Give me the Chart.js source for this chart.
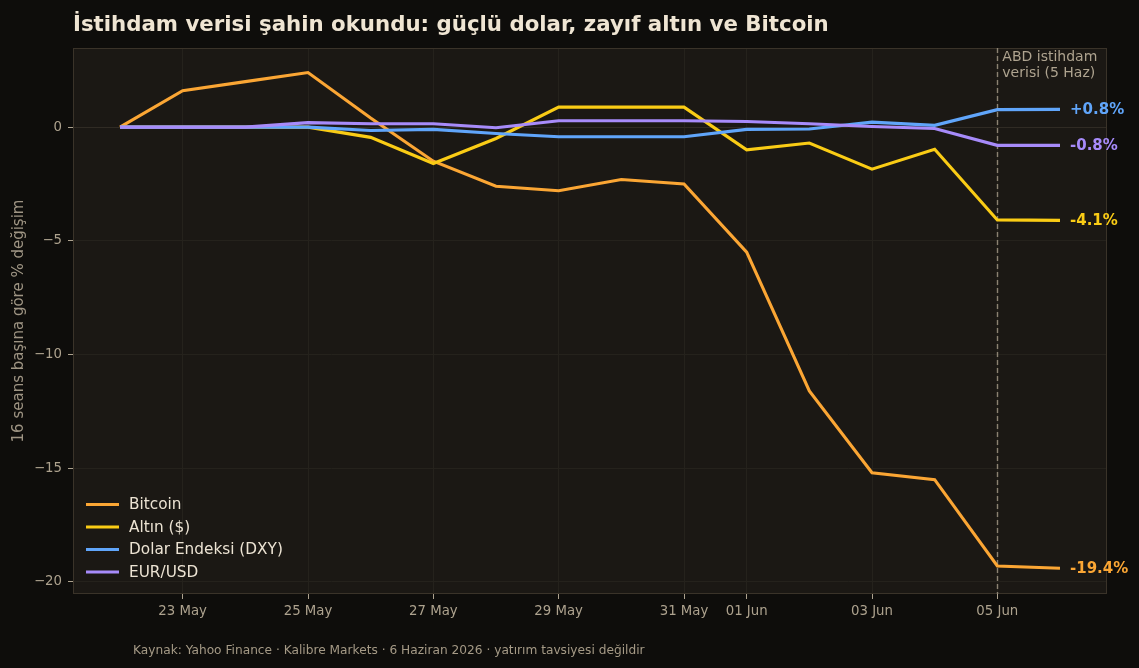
<!DOCTYPE html>
<html>
<head>
<meta charset="utf-8">
<script src="https://cdn.jsdelivr.net/npm/chart.js@4.4.1/dist/chart.umd.min.js"></script>
<style>
  body { margin: 0; background: #0e0d0b; }
  #wrap { width: 1139px; height: 668px; }
</style>
</head>
<body>
<div id="wrap"><canvas id="chart" width="1139" height="668"></canvas></div>
<script>
// sessions, 22 May -> 06 Jun (day offset from 22 May)
const days = [0, 1, 2, 3, 4, 5, 6, 7, 8, 9, 10, 11, 12, 13, 14, 15];
const bitcoin = [0, 1.6, 2.0, 2.4, 0.4, -1.5, -2.6, -2.8, -2.3, -2.5, -5.5, -11.6, -15.2, -15.5, -19.3, -19.4];
const gold    = [0, 0, 0, 0, -0.45, -1.6, -0.5, 0.88, 0.88, 0.88, -1.0, -0.7, -1.85, -0.97, -4.08, -4.1];
const dxy     = [0, 0, 0, 0, -0.15, -0.1, -0.28, -0.42, -0.42, -0.42, -0.1, -0.08, 0.22, 0.08, 0.77, 0.78];
const eurusd  = [0, 0, 0, 0.2, 0.15, 0.15, -0.03, 0.28, 0.28, 0.28, 0.25, 0.15, 0.03, -0.06, -0.8, -0.8];

const seriesNames = ["Bitcoin", "Altın ($)", "Dolar Endeksi (DXY)", "EUR/USD"];
const seriesColors = ["#fba634", "#facc15", "#60a5fa", "#a78bfa"];

const xTickDays = [1, 3, 5, 7, 9, 10, 12, 14];
const xTickLabels = ["23 May", "25 May", "27 May", "29 May", "31 May", "01 Jun", "03 Jun", "05 Jun"];
const yTicks = [-20, -15, -10, -5, 0];
const eventDay = 14;

const FONT = '"DejaVu Sans", sans-serif';
const TICK_COLOR = "#ada28e";

function toPoints(vals) {
  return days.map((d, i) => ({ x: d, y: vals[i] }));
}

const allSeries = [bitcoin, gold, dxy, eurusd];

const decor = {
  id: "decor",
  beforeDraw(chart) {
    const { ctx, chartArea: a } = chart;
    ctx.save();
    ctx.fillStyle = "#0e0d0b";
    ctx.fillRect(0, 0, chart.width, chart.height);
    ctx.fillStyle = "#1b1814";
    ctx.fillRect(a.left, a.top, a.right - a.left, a.bottom - a.top);
    ctx.restore();
  },
  beforeDatasetsDraw(chart) {
    const { ctx, chartArea: a, scales } = chart;
    ctx.save();
    // spines
    ctx.strokeStyle = "#3a3329";
    ctx.lineWidth = 1;
    ctx.strokeRect(a.left + 0.5, a.top + 0.5, a.right - a.left - 1, a.bottom - a.top - 1);
    // event line
    const ex = Math.round(scales.x.getPixelForValue(eventDay)) + 0.5;
    ctx.strokeStyle = "#8b8272";
    ctx.lineWidth = 1.4;
    ctx.setLineDash([5, 3]);
    ctx.beginPath();
    ctx.moveTo(ex, a.top);
    ctx.lineTo(ex, a.bottom);
    ctx.stroke();
    ctx.restore();
  },
  afterDatasetsDraw(chart) {
    const { ctx, scales } = chart;
    ctx.save();
    // end labels
    ctx.font = "bold 15px " + FONT;
    ctx.textBaseline = "middle";
    ctx.textAlign = "left";
    const last = days.length - 1;
    const lx = scales.x.getPixelForValue(days[last]) + 10;
    allSeries.forEach((vals, i) => {
      const v = vals[last];
      const txt = (v > 0 ? "+" : "") + v.toFixed(1) + "%";
      ctx.fillStyle = seriesColors[i];
      ctx.fillText(txt, lx, scales.y.getPixelForValue(v) + 1);
    });
    // event annotation
    const ex = scales.x.getPixelForValue(eventDay) + 5;
    ctx.font = "14px " + FONT;
    ctx.textBaseline = "alphabetic";
    ctx.fillStyle = "#aea38f";
    ctx.fillText("ABD istihdam", ex, 61);
    ctx.fillText("verisi (5 Haz)", ex, 77);
    // legend
    ctx.font = "15.3px " + FONT;
    ctx.textBaseline = "middle";
    seriesNames.forEach((name, i) => {
      const y = 504.5 + i * 22.5;
      ctx.strokeStyle = seriesColors[i];
      ctx.lineWidth = 3;
      ctx.beginPath();
      ctx.moveTo(86, y);
      ctx.lineTo(119, y);
      ctx.stroke();
      ctx.fillStyle = "#ece3d3";
      ctx.fillText(name, 129, y + 1);
    });
    ctx.restore();
  },
  afterDraw(chart) {
    const { ctx, chartArea: a } = chart;
    ctx.save();
    ctx.fillStyle = "#efe5d3";
    ctx.font = "bold 21.3px " + FONT;
    ctx.textBaseline = "alphabetic";
    ctx.fillText("İstihdam verisi şahin okundu: güçlü dolar, zayıf altın ve Bitcoin", 73, 31);

    ctx.fillStyle = "#a59a86";
    ctx.font = "12.2px " + FONT;
    ctx.textBaseline = "middle";
    ctx.fillText("Kaynak: Yahoo Finance · Kalibre Markets · 6 Haziran 2026 · yatırım tavsiyesi değildir", 133, 651);

    ctx.translate(19, (a.top + a.bottom) / 2);
    ctx.rotate(-Math.PI / 2);
    ctx.textAlign = "center";
    ctx.fillStyle = "#9f9584";
    ctx.font = "15px " + FONT;
    ctx.fillText("16 seans başına göre % değişim", 0, 0);
    ctx.restore();
  }
};

new Chart(document.getElementById("chart"), {
  type: "line",
  data: {
    datasets: allSeries.map((vals, i) => ({
      label: seriesNames[i],
      data: toPoints(vals),
      borderColor: seriesColors[i],
      backgroundColor: seriesColors[i],
      borderWidth: 3.1,
      pointRadius: 0,
      tension: 0,
      order: allSeries.length - i
    }))
  },
  options: {
    responsive: false,
    animation: false,
    devicePixelRatio: 1,
    layout: { padding: { top: 48, right: 32, left: 0, bottom: 0 } },
    plugins: {
      legend: { display: false },
      title: { display: false },
      tooltip: { enabled: false }
    },
    scales: {
      x: {
        type: "linear",
        min: -0.75,
        max: 15.75,
        afterFit: s => { s.height = 74; },
        afterBuildTicks: s => { s.ticks = xTickDays.map(v => ({ value: v })); },
        ticks: {
          color: TICK_COLOR,
          font: { family: FONT, size: 13.3 },
          padding: 5,
          maxRotation: 0,
          autoSkip: false,
          callback: v => xTickLabels[xTickDays.indexOf(v)]
        },
        grid: { color: "#25221c", tickColor: TICK_COLOR, tickLength: 5 },
        border: { display: false }
      },
      y: {
        min: -20.53,
        max: 3.48,
        afterFit: s => { s.width = 73; },
        afterBuildTicks: s => { s.ticks = yTicks.map(v => ({ value: v })); },
        ticks: {
          color: TICK_COLOR,
          font: { family: FONT, size: 13.3 },
          padding: 6,
          callback: v => (v < 0 ? "\u2212" + Math.abs(v) : String(v))
        },
        grid: {
          color: c => (c.tick && c.tick.value === 0 ? "#302b24" : "#25221c"),
          tickColor: TICK_COLOR,
          tickLength: 5
        },
        border: { display: false }
      }
    }
  },
  plugins: [decor]
});
</script>
</body>
</html>
